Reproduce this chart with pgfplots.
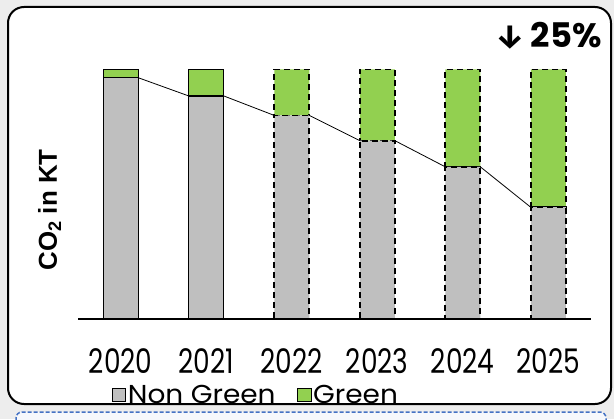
\documentclass[border=0pt]{standalone}
\usepackage{pgfplots}
\pgfplotsset{compat=1.18}
\usepackage{pgfplotstable}
\usepackage{fontspec}
\setmainfont{Poppins}
\newfontfamily\arialf{Liberation Sans}
\newfontfamily\tickf[FakeStretch=0.78]{Poppins}
\newfontfamily\legf[FakeStretch=1.08]{Poppins}
\newfontfamily\arrowf{Fira Sans}
\definecolor{barGray}{HTML}{BFBFBF}
\definecolor{barGreen}{HTML}{92D050}
\definecolor{bgGray}{HTML}{EDEDED}
\definecolor{boxBlue}{HTML}{4472C4}

\pgfplotstableread{
x gray green
0 96.7 3.3
1 89.4 10.6
}\actualdata
\pgfplotstableread{
x gray green
2 81.6 18.4
3 71.5 28.5
4 61.0 39.0
5 44.8 55.2
}\plandata

\pgfplotsset{base/.style={scale only axis, width=513bp, height=249.5bp,
  xmin=-0.5, xmax=5.5, ymin=0, ymax=100, at={(78bp,100bp)}, anchor=south west}}

\begin{document}
\begin{tikzpicture}[x=1bp,y=1bp]
\useasboundingbox (0,0) rectangle (614,419);
\fill[bgGray] (0,0) rectangle (614,419);
\draw[boxBlue, dash pattern=on 4bp off 2bp, line width=1.5bp, fill=boxBlue!5, rounded corners=6bp] (16,-20) rectangle (606,7);
\draw[black, line width=2bp, fill=white, rounded corners=16bp] (8,15) rectangle (611,412);

\begin{axis}[base, hide axis, clip=false, ybar stacked, bar width=35bp]
\addplot[fill=barGray, draw=black, line width=1.3bp] table[x=x,y=gray]{\actualdata};
\addplot[fill=barGreen, draw=black, line width=1.3bp] table[x=x,y=green]{\actualdata};
\end{axis}

\begin{axis}[base, hide axis, clip=false, ybar stacked, bar width=35bp]
\addplot[fill=barGray, draw=black, line width=1.8bp, dash pattern=on 6bp off 4bp] table[x=x,y=gray]{\plandata};
\addplot[fill=barGreen, draw=black, line width=1.8bp, dash pattern=on 6bp off 4bp] table[x=x,y=green]{\plandata};
\end{axis}

\begin{axis}[base, clip=false,
  axis x line*=bottom, axis y line*=left,
  y axis line style={draw=none}, ytick=\empty,
  x axis line style={black, line width=1.3bp, -},
  xtick={0,1,2,3,4,5},
  xticklabels={2020,2021,2022,2023,2024,2025},
  major tick length=0pt,
  xticklabel style={font=\tickf\fontsize{34}{34}\selectfont, inner sep=0pt, anchor=north, yshift=-29bp},
  ylabel={\arialf\bfseries\fontsize{26}{26}\selectfont CO\textsubscript{2} in KT},
  ylabel style={at={(axis description cs:-0.041,0.437)}, anchor=base},
  legend style={at={(axis description cs:0.0657,-0.305)}, anchor=west, draw=none, fill=none,
    inner sep=0pt, font=\legf\fontsize{26}{26}\selectfont, legend columns=2,
    /tikz/every even column/.append style={column sep=20bp}, nodes={inner sep=1.5bp}},
]
\addlegendimage{legend image code/.code={\draw[fill=barGray,draw=black,line width=1bp] (0bp,-6.5bp) rectangle (13.5bp,7bp);}}
\addlegendentry{Non Green}
\addlegendimage{legend image code/.code={\draw[fill=barGreen,draw=black,line width=1bp] (0bp,-6.5bp) rectangle (13.5bp,7bp);}}
\addlegendentry{Green}
\addplot[black, line width=0.8bp, no markers] coordinates {(0.205,96.7) (0.795,89.4)};
\addplot[black, line width=0.8bp, no markers] coordinates {(1.205,89.4) (1.795,81.6)};
\addplot[black, line width=0.8bp, no markers] coordinates {(2.205,81.6) (2.795,71.5)};
\addplot[black, line width=0.8bp, no markers] coordinates {(3.205,71.5) (3.795,61.0)};
\addplot[black, line width=0.8bp, no markers] coordinates {(4.205,61.0) (4.795,44.8)};
\end{axis}

\node[anchor=base east, inner sep=0pt] at (602,371.7) {{\arrowf\bfseries\fontsize{33}{33}\selectfont ↓}\hspace{6bp}{\bfseries\fontsize{34}{34}\selectfont 25\%}};
\end{tikzpicture}
\end{document}
